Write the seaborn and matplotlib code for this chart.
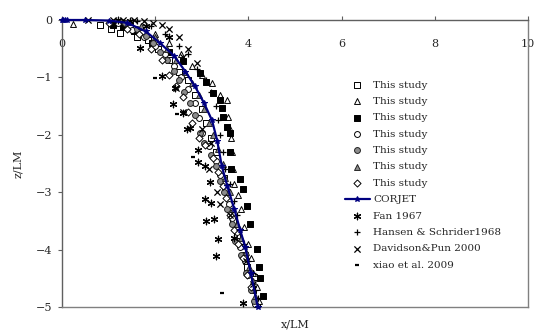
import matplotlib
matplotlib.use("Agg")
import matplotlib.pyplot as plt
import seaborn as sns
import pandas as pd

# ---------------- data (x/LM, z/LM) ----------------
s1_x = [0.82, 1.05, 1.25, 1.45, 1.6, 1.85, 2.05, 2.3, 2.5, 2.7, 2.85, 3.0, 3.1, 3.2, 3.3, 3.48, 3.55, 3.6, 3.68, 3.75, 3.93, 3.98, 4.12, 4.1, 4.18]
s1_z = [-0.08, -0.15, -0.22, -0.1, -0.3, -0.35, -0.5, -0.7, -0.9, -1.05, -1.3, -1.55, -1.8, -2.05, -2.3, -2.76, -3.0, -3.25, -3.5, -3.75, -4.1, -4.3, -4.47, -4.7, -4.95]

s2_x = [0.24, 1.7, 2.0, 2.3, 2.55, 2.8, 3.0, 3.22, 3.4, 3.54, 3.56, 3.6, 3.62, 3.65, 3.66, 3.7, 3.78, 3.85, 3.9, 4.0, 4.05, 4.1, 4.18, 4.22]
s2_z = [-0.07, -0.12, -0.25, -0.4, -0.6, -0.8, -0.95, -1.1, -1.3, -1.39, -1.69, -1.9, -2.05, -2.3, -2.6, -2.85, -3.05, -3.3, -3.6, -3.9, -4.15, -4.4, -4.65, -4.9]

s3_x = [1.1, 1.3, 1.55, 1.93, 2.3, 2.6, 2.96, 3.1, 3.25, 3.39, 3.43, 3.45, 3.54, 3.6, 3.6, 3.62, 3.82, 3.88, 3.97, 4.03, 4.19, 4.23, 4.25, 4.31]
s3_z = [-0.09, -0.12, -0.2, -0.4, -0.55, -0.72, -0.92, -1.08, -1.28, -1.39, -1.53, -1.69, -1.86, -1.97, -2.3, -2.6, -2.77, -2.95, -3.24, -3.55, -3.99, -4.3, -4.5, -4.8]

s4_x = [1.2, 1.5, 1.75, 2.0, 2.2, 2.4, 2.55, 2.7, 2.85, 2.95, 3.0, 3.15, 3.3, 3.4, 3.5, 3.58, 3.65, 3.75, 3.82, 3.92, 4.0, 4.08, 4.15]
s4_z = [-0.05, -0.18, -0.3, -0.45, -0.6, -0.8, -1.0, -1.2, -1.45, -1.7, -1.97, -2.2, -2.45, -2.7, -2.95, -3.2, -3.45, -3.7, -3.95, -4.2, -4.45, -4.7, -4.95]

s5_x = [1.35, 1.6, 1.8, 1.95, 2.1, 2.25, 2.4, 2.5, 2.62, 2.75, 2.85, 2.96, 3.05, 3.2, 3.3, 3.4, 3.48, 3.55, 3.65, 3.72, 3.85, 3.95, 4.05, 4.12]
s5_z = [-0.05, -0.15, -0.28, -0.4, -0.55, -0.7, -0.88, -1.05, -1.25, -1.45, -1.65, -1.97, -2.15, -2.35, -2.55, -2.8, -3.0, -3.3, -3.55, -3.85, -4.1, -4.4, -4.7, -4.9]

s6_x = [1.45, 1.7, 2.0, 2.25, 2.45, 2.65, 2.8, 2.95, 3.05, 3.15, 3.25, 3.35, 3.45, 3.5, 3.6, 3.68, 3.75, 3.85, 3.95, 4.02, 4.1, 4.15]
s6_z = [-0.03, -0.1, -0.3, -0.5, -0.7, -0.9, -1.1, -1.3, -1.55, -1.8, -2.0, -2.25, -2.5, -2.75, -3.0, -3.3, -3.55, -3.8, -4.05, -4.3, -4.55, -4.8]

s7_x = [1.0, 1.4, 1.65, 1.9, 2.15, 2.3, 2.45, 2.6, 2.7, 2.8, 2.95, 3.07, 3.25, 3.35, 3.45, 3.52, 3.6, 3.7, 3.78, 3.88, 3.98, 4.05]
s7_z = [-0.05, -0.15, -0.25, -0.5, -0.7, -0.95, -1.15, -1.35, -1.6, -1.8, -2.05, -2.18, -2.4, -2.65, -2.9, -3.1, -3.4, -3.65, -3.9, -4.15, -4.45, -4.65]

corjet_x = [0.0, 0.03, 0.06, 0.1, 0.5, 1.0, 1.4, 1.8, 2.1, 2.4, 2.65, 2.85, 3.05, 3.22, 3.33, 3.43, 3.55, 3.7, 3.82, 3.93, 4.05, 4.2]
corjet_z = [0.0, 0.0, 0.0, 0.0, 0.0, -0.01, -0.05, -0.2, -0.4, -0.62, -0.9, -1.15, -1.45, -1.75, -2.1, -2.55, -2.9, -3.3, -3.65, -3.95, -4.4, -5.0]

fan_x = [1.2, 1.45, 1.8, 1.67, 2.3, 2.14, 2.42, 2.39, 2.6, 2.68, 2.75, 2.92, 2.92, 3.07, 3.18, 3.07, 3.2, 3.09, 3.27, 3.34, 3.7, 3.3, 3.89]
fan_z = [0.0, -0.02, -0.1, -0.49, -0.3, -0.98, -1.18, -1.46, -1.62, -1.9, -1.88, -2.27, -2.47, -2.55, -2.82, -3.12, -3.19, -3.5, -3.47, -3.82, -3.8, -4.12, -4.93]

hansen_x = [1.6, 1.9, 2.2, 2.5, 2.7, 2.9, 3.1, 3.2, 3.3, 3.35, 3.4, 3.45, 3.5, 3.6, 3.7, 3.75, 3.8, 3.9, 4.0, 4.1, 4.15, 4.2]
hansen_z = [-0.02, -0.1, -0.25, -0.45, -0.6, -0.85, -1.05, -1.25, -1.5, -1.75, -2.0, -2.3, -2.6, -2.85, -3.15, -3.4, -3.65, -3.9, -4.2, -4.4, -4.7, -4.85]

david_x = [0.55, 1.1, 1.3, 1.55, 1.75, 1.95, 2.15, 2.3, 2.5, 2.7, 2.6, 2.9, 2.44, 2.6, 3.0, 3.2, 3.15, 3.33, 3.4, 3.6, 3.95, 4.1]
david_z = [0.0, 0.0, 0.0, 0.0, -0.02, -0.05, -0.08, -0.15, -0.3, -0.5, -0.65, -0.75, -1.19, -1.6, -1.9, -2.15, -2.6, -3.0, -3.2, -3.4, -4.2, -4.6]

xiao_x = [2.0, 2.46, 2.81, 3.43]
xiao_z = [-1.01, -1.64, -2.39, -4.75]

x_ticks = [0, 2, 4, 6, 8, 10]
y_ticks = [0, -1, -2, -3, -4, -5]

# ---------------- style ----------------
sns.set_style("white")
plt.rcParams["font.family"] = ["DejaVu Serif"]

fig = plt.figure(figsize=(5.37, 3.35), dpi=100)
ax = fig.add_axes([62/537, 1 - 307/335, 466/537, 287/335])

ms = 18
common = dict(ax=ax, s=ms, linewidth=0.7, clip_on=False, zorder=4)

sns.scatterplot(x=s1_x, y=s1_z, marker="s", color="white", edgecolor="black", label="This study", **common)
sns.scatterplot(x=s2_x, y=s2_z, marker="^", color="white", edgecolor="black", label="This study", **common)
sns.scatterplot(x=s3_x, y=s3_z, marker="s", color="black", edgecolor="black", label="This study", **common)
sns.scatterplot(x=s4_x, y=s4_z, marker="o", color="white", edgecolor="black", label="This study", **common)
sns.scatterplot(x=s5_x, y=s5_z, marker="o", color="#8c8c8c", edgecolor="#222222", label="This study", **common)
sns.scatterplot(x=s6_x, y=s6_z, marker="^", color="#8c8c8c", edgecolor="#222222", label="This study", **common)
sns.scatterplot(x=s7_x, y=s7_z, marker="D", color="white", edgecolor="black", label="This study",
                ax=ax, s=13, linewidth=0.7, clip_on=False, zorder=4)

corjet = pd.DataFrame({"x": corjet_x, "z": corjet_z})
sns.lineplot(data=corjet, x="x", y="z", sort=False, estimator=None, ax=ax, color="#000080",
             linewidth=1.6, marker="*", markersize=4, markeredgecolor="#000080",
             label="CORJET", zorder=5, clip_on=False)

sns.scatterplot(x=fan_x, y=fan_z, marker=(6, 2, 0), color="black", s=22, linewidth=0.9,
                label="Fan 1967", ax=ax, clip_on=False, zorder=4)
sns.scatterplot(x=hansen_x, y=hansen_z, marker="+", color="black", s=22, linewidth=0.9,
                label="Hansen & Schrider1968", ax=ax, clip_on=False, zorder=4)
sns.scatterplot(x=david_x, y=david_z, marker="x", color="black", s=20, linewidth=0.9,
                label="Davidson&Pun 2000", ax=ax, clip_on=False, zorder=4)
sns.scatterplot(x=xiao_x, y=xiao_z, marker="_", color="black", s=8, linewidth=1.6,
                label="xiao et al. 2009", ax=ax, clip_on=False, zorder=4)

ax.set_xlim(0, 10)
ax.set_ylim(-5, 0)
ax.set_xticks(x_ticks)
ax.set_xticklabels([str(v) for v in x_ticks])
ax.set_yticks(y_ticks)
ax.set_yticklabels(["0" if v == 0 else "\u2212" + str(abs(v)) for v in y_ticks])

for sp in ax.spines.values():
    sp.set_color("#808080")
    sp.set_linewidth(1.0)
ax.spines["top"].set_color("#606060")
ax.spines["left"].set_color("#606060")

ax.tick_params(axis="x", top=True, bottom=False, labeltop=True, labelbottom=False,
               direction="out", length=3, width=0.8, color="#606060", labelsize=8, pad=-24)
ax.tick_params(axis="y", left=True, direction="out", length=3, width=0.8, color="#606060",
               labelsize=8, pad=4)

ax.xaxis.set_label_position("bottom")
ax.set_xlabel("x/LM", fontsize=8, labelpad=9)
ax.set_ylabel("z/LM", fontsize=8, labelpad=9)

leg = ax.legend(loc="upper left", bbox_to_anchor=(0.607, 0.79), frameon=False, fontsize=7.5,
                handlelength=2.4, handletextpad=0.3, labelspacing=0.68, borderpad=0,
                borderaxespad=0)

fig.savefig("out.png", dpi=100)
